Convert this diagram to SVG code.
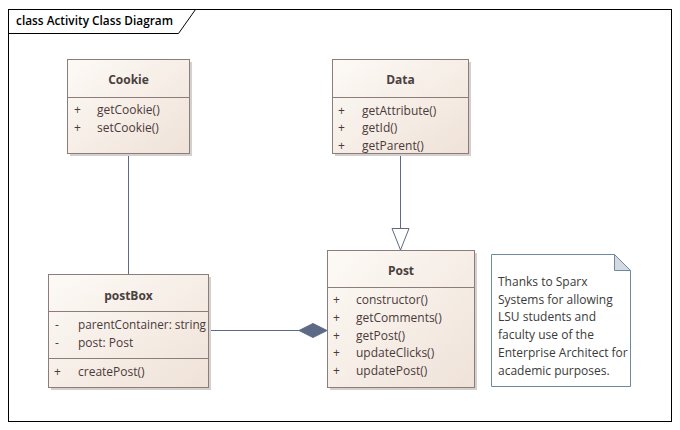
<svg xmlns="http://www.w3.org/2000/svg" width="680" height="430" viewBox="0 0 680 430">
<style>
text{font-family:"Open Sans","Noto Sans","Liberation Sans",sans-serif;font-size:12px;fill:#4a3a3a}
.t{font-weight:bold;text-anchor:middle;fill:#4a4040}
.title{font-weight:600;fill:#000;font-size:12.5px}
.box{fill:url(#g);stroke:#8c7d7b;stroke-width:1}
.sh{fill:#d4d0ce}
.div{stroke:#8c7d7b;stroke-width:1}
.con{stroke:#5c6a85;stroke-width:1;fill:none}
.note text{fill:#3a3a3a}
</style>
<defs>
<linearGradient id="g" x1="0" y1="0" x2="1" y2="1">
<stop offset="0" stop-color="#fdfaf6"/>
<stop offset="1" stop-color="#efe2d8"/>
</linearGradient>
</defs>
<rect x="0" y="0" width="680" height="430" fill="#fff"/>
<g id="frame">
<rect x="8.5" y="9.5" width="663" height="412" fill="none" stroke="#000"/>
<path d="M8.5 33.5 H178.5 L195.5 9.5" fill="none" stroke="#000"/>
<text class="title" x="16" y="25" textLength="157" lengthAdjust="spacingAndGlyphs">class Activity Class Diagram</text>
</g>
<g id="connectors">
<line class="con" x1="128.5" y1="153" x2="128.5" y2="274"/>
<line class="con" x1="400.5" y1="153" x2="400.5" y2="228"/>
<path d="M392 228.5 H409 L400.5 250 Z" fill="#fff" stroke="#5c6a85"/>
<line class="con" x1="208" y1="330.5" x2="299" y2="330.5"/>
<path d="M299 330.5 L313 323.5 L327 330.5 L313 337.5 Z" fill="#5c6a85" stroke="#5c6a85"/>
</g>
<g id="Cookie">
<rect class="sh" x="70" y="62" width="122" height="94"/>
<rect class="box" x="67.5" y="59.5" width="122" height="94"/>
<line class="div" x1="67.5" y1="97.5" x2="189.5" y2="97.5"/>
<text class="t" x="128.5" y="84">Cookie</text>
<text x="74" y="114">+</text><text x="97" y="114">getCookie()</text>
<text x="74" y="132">+</text><text x="97" y="132">setCookie()</text>
</g>
<g id="Data">
<rect class="sh" x="335" y="62" width="136" height="94"/>
<rect class="box" x="332.5" y="59.5" width="136" height="94"/>
<line class="div" x1="332.5" y1="97.5" x2="468.5" y2="97.5"/>
<text class="t" x="400.5" y="84">Data</text>
<text x="338" y="115">+</text><text x="362" y="115">getAttribute()</text>
<text x="338" y="132">+</text><text x="362" y="132">getId()</text>
<text x="338" y="150">+</text><text x="362" y="150">getParent()</text>
</g>
<g id="postBox">
<rect class="sh" x="51" y="277" width="160" height="113"/>
<rect class="box" x="48.5" y="274.5" width="160" height="113"/>
<line class="div" x1="48.5" y1="311.5" x2="208.5" y2="311.5"/>
<line class="div" x1="48.5" y1="358.5" x2="208.5" y2="358.5"/>
<text class="t" x="128.5" y="300">postBox</text>
<text x="55" y="329">-</text><text x="78" y="329" textLength="128" lengthAdjust="spacingAndGlyphs">parentContainer: string</text>
<text x="55" y="347">-</text><text x="78" y="347">post: Post</text>
<text x="54" y="376">+</text><text x="78" y="376">createPost()</text>
</g>
<g id="Post">
<rect class="sh" x="330" y="253" width="147" height="137"/>
<rect class="box" x="327.5" y="250.5" width="147" height="137"/>
<line class="div" x1="327.5" y1="287.5" x2="474.5" y2="287.5"/>
<text class="t" x="401" y="275">Post</text>
<text x="333" y="304">+</text><text x="356" y="304">constructor()</text>
<text x="333" y="322">+</text><text x="356" y="322">getComments()</text>
<text x="333" y="340">+</text><text x="356" y="340">getPost()</text>
<text x="333" y="357">+</text><text x="356" y="357">updateClicks()</text>
<text x="333" y="375">+</text><text x="356" y="375">updatePost()</text>
</g>
<g id="note" class="note">
<path d="M491.5 254.5 H614.5 L630.5 270.5 V386.5 H491.5 Z" fill="#fff" stroke="#6f8a9c"/>
<path d="M614.5 254.5 V270.5 H630.5 Z" fill="#d3dae2" stroke="#6f8a9c"/>
<text x="498" y="286">Thanks to Sparx</text>
<text x="498" y="304">Systems for allowing</text>
<text x="498" y="321">LSU students and</text>
<text x="498" y="339">faculty use of the</text>
<text x="498" y="357">Enterprise Architect for</text>
<text x="498" y="375">academic purposes.</text>
</g>
</svg>
